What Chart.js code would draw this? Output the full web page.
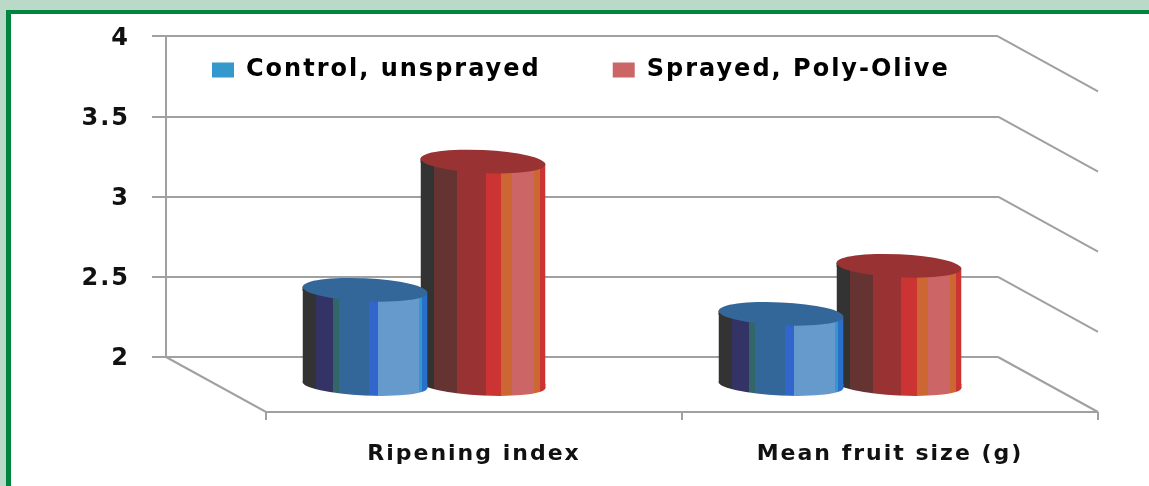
<!DOCTYPE html>
<html>
<head>
<meta charset="utf-8">
<title>Poly-Olive</title>
<script src="https://cdn.jsdelivr.net/npm/chart.js@4"></script>
<style>
    html, body { margin: 0; padding: 0; background: #bbd9c9; overflow: hidden; }
    #cadre { position: absolute; left: 6px; top: 10px; right: 0; bottom: 0; background: #fff;
             border-left: 5px solid #00853f; border-top: 4px solid #00853f; }
    #graphique { position: absolute; left: 0; top: 0; }
</style>
</head>
<body>
<div id="cadre"></div>
<canvas id="graphique" width="1149" height="486"></canvas>
<script>
// Data
var categories = ['Ripening index', 'Mean fruit size (g)'];
var seriesNames = ['Control, unsprayed', 'Sprayed, Poly-Olive'];
var controlValues = [2.6, 2.45];
var sprayedValues = [3.4, 2.75];
var yTicks = [2, 2.5, 3, 3.5, 4];

// Colours of the vertical stripes: [end of the stripe as a fraction of the width, colour]
var controlStripes = [[0.106, '#333333'], [0.247, '#333366'], [0.295, '#336666'], [0.532, '#336699'],
    [0.606, '#3366cc'], [0.933, '#6699cc'], [0.96, '#3399cc'], [1, '#2a6fc9']];
var sprayedStripes = [[0.107, '#333333'], [0.288, '#663333'], [0.52, '#993333'], [0.645, '#cc3333'],
    [0.733, '#cc6633'], [0.907, '#cc6666'], [0.955, '#cc6633'], [1, '#cc3333']];
var capColors = ['#336699', '#993333'];
var legendColors = ['#3399cc', '#cc6666'];

// Fake 3D: the floor goes from the back wall to the front, bars stand half way
var floorDx = 100, floorDy = 55;
var barDx = 50, barDy = 29;
var capRy = 11.5, capTilt = 3;
var barSpacing = 118;

function barStripes(ctx) {
    if (ctx.type !== 'data') return '#999';
    var chart = ctx.chart;
    var sens = ctx.datasetIndex === 0 ? -1 : 1;
    var centre = chart.scales.x.getPixelForValue(ctx.dataIndex) + sens * barSpacing / 2;
    return stripesAt(chart.ctx, centre - 62.5, 125, ctx.datasetIndex === 0 ? controlStripes : sprayedStripes);
}

function stripesAt(c, left, width, stripes) {
    var g = c.createLinearGradient(left, 0, left + width, 0);
    var debut = 0;
    stripes.forEach(function (s) {
        g.addColorStop(debut, s[1]);
        g.addColorStop(s[0], s[1]);
        debut = s[0];
    });
    return g;
}

function setSpacing(chart) {
    chart.ctx.letterSpacing = '2px';
}

var cylinders = {
    id: 'cylinders',
    beforeLayout: setSpacing,
    afterLayout: function (chart) {
        // legend sits inside the back wall, one line
        chart.legend.left = 212 - 72;
        chart.legend.right = 1149;
        chart.legend.top = -14;
        chart.legend.bottom = 120;
    },
    beforeDraw: setSpacing,
    beforeDatasetsDraw: function (chart) {
        var c = chart.ctx, y = chart.scales.y;
        var left = chart.chartArea.left, right = chart.chartArea.right;
        c.save();
        c.strokeStyle = '#a0a0a0';
        c.lineWidth = 2;
        c.beginPath();
        // diagonals on the right wall
        yTicks.forEach(function (t) {
            var p = y.getPixelForValue(t);
            c.moveTo(right, p);
            c.lineTo(right + floorDx, p + floorDy);
        });
        // floor
        var base = y.getPixelForValue(yTicks[0]);
        c.moveTo(left, base);
        c.lineTo(left + floorDx, base + floorDy);
        c.lineTo(right + floorDx, base + floorDy);
        // ticks under the floor
        for (var i = 0; i <= categories.length; i++) {
            var px = left + i * (right - left) / categories.length + floorDx;
            c.moveTo(px, base + floorDy);
            c.lineTo(px, base + floorDy + 8);
        }
        c.stroke();
        c.restore();
    },
    beforeDatasetDraw: function (chart, args) {
        var c = chart.ctx;
        c.save();
        c.translate(barDx, barDy);
        // keep the bar corners inside the tilted caps
        c.beginPath();
        args.meta.data.forEach(function (bar) {
            var l = bar.x - bar.width / 2, r = bar.x + bar.width / 2;
            c.moveTo(l, bar.y - capTilt);
            c.lineTo(r, bar.y + capTilt);
            c.lineTo(r, bar.base + capTilt);
            c.lineTo(l, bar.base - capTilt);
            c.closePath();
        });
        c.clip();
    },
    afterDatasetDraw: function (chart, args) {
        var c = chart.ctx;
        c.restore();
        c.save();
        c.translate(barDx, barDy);
        var angle = Math.atan2(2 * capTilt, 125);
        var stripes = args.index === 0 ? controlStripes : sprayedStripes;
        args.meta.data.forEach(function (bar) {
            var l = bar.x - bar.width / 2, rx = bar.width / 2;
            var fill = stripesAt(c, l, bar.width, stripes);
            // bottom of the cylinder
            c.fillStyle = fill;
            c.beginPath();
            c.ellipse(bar.x, bar.base, rx, capRy - 1, angle, 0, Math.PI * 2);
            c.fill();
            // sides, up to the cap end and down to the bottom end
            c.fillRect(l, bar.y - capTilt, 3, capTilt + 1);
            c.fillRect(l + bar.width - 3, bar.base - 1, 3, capTilt + 1);
            // top of the cylinder
            c.fillStyle = capColors[args.index];
            c.beginPath();
            c.ellipse(bar.x, bar.y, rx, capRy, angle, 0, Math.PI * 2);
            c.fill();
        });
        c.restore();
    }
};

new Chart(document.getElementById('graphique').getContext('2d'), {
    type: 'bar',
    data: {
        labels: categories,
        datasets: [{
            label: seriesNames[0],
            data: controlValues,
            base: yTicks[0],
            backgroundColor: barStripes,
            clip: false
        }, {
            label: seriesNames[1],
            data: sprayedValues,
            base: yTicks[0],
            backgroundColor: barStripes,
            clip: false
        }]
    },
    options: {
        responsive: false,
        animation: false,
        categoryPercentage: barSpacing * 2 / 416,
        barPercentage: 125 / barSpacing,
        layout: { autoPadding: false, padding: { left: 0, right: 151, top: 28, bottom: 0 } },
        plugins: {
            tooltip: { enabled: false },
            legend: {
                position: 'top',
                align: 'start',
                maxHeight: 1,
                labels: {
                    boxWidth: 22,
                    boxHeight: 15,
                    padding: 72,
                    color: '#111',
                    font: { family: '"DejaVu Sans"', size: 24, weight: 'bold' },
                    generateLabels: function () {
                        return seriesNames.map(function (nom, i) {
                            return { text: nom, fillStyle: legendColors[i], strokeStyle: legendColors[i], lineWidth: 0, datasetIndex: i };
                        });
                    }
                }
            }
        },
        scales: {
            x: {
                grid: { display: false },
                border: { display: false },
                ticks: {
                    labelOffset: 100,
                    padding: 76,
                    maxRotation: 0,
                    color: '#111',
                    font: { family: '"DejaVu Sans"', size: 22, weight: 'bold' }
                },
                afterFit: function (scale) { scale.height = 129; }
            },
            y: {
                min: yTicks[0],
                max: yTicks[yTicks.length - 1],
                border: { color: '#a0a0a0', width: 2 },
                grid: { color: '#a0a0a0', lineWidth: 2, tickLength: 14 },
                ticks: {
                    stepSize: 0.5,
                    padding: 22,
                    labelOffset: 2,
                    color: '#111',
                    font: { family: '"DejaVu Sans"', size: 24, weight: 'bold' },
                    callback: function (v) { return String(v); }
                },
                afterFit: function (scale) { scale.width = 166; }
            }
        }
    },
    plugins: [cylinders]
});
</script>
</body>
</html>
